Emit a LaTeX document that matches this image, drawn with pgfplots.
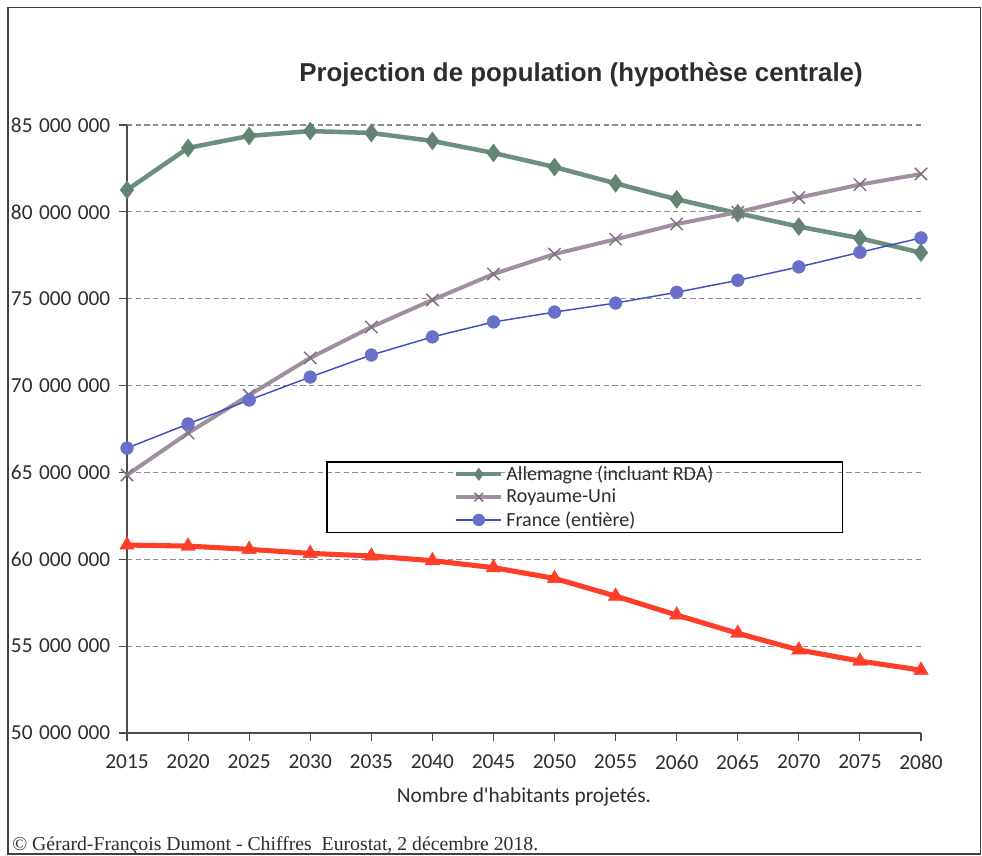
\documentclass[border=0pt]{standalone}
\usepackage{fontspec}
\setmainfont{Carlito}[Ligatures=TeXOff]
\newfontfamily\arialfont{Liberation Sans}
\newfontfamily\timesfont{Liberation Serif}
\usepackage{pgfplots}
\pgfplotsset{compat=1.18}

\definecolor{gerc}{RGB}{108,143,126}
\definecolor{germ}{RGB}{98,132,116}
\definecolor{ukc}{RGB}{160,143,160}
\definecolor{ukm}{RGB}{128,115,128}
\definecolor{frc}{RGB}{64,78,190}
\definecolor{frm}{RGB}{104,112,201}
\definecolor{itc}{RGB}{255,62,42}
\definecolor{gridc}{RGB}{140,140,140}
\definecolor{axc}{RGB}{77,77,77}
\definecolor{txt}{RGB}{45,45,45}

\newcommand{\sep}{\hspace{0.3em}}

\begin{document}
\begin{tikzpicture}
  % whole picture is 982 x 856 px, 1 px = 0.75 pt
  \path[use as bounding box] (0,0) rectangle (736.5pt,642pt);
  \draw[black!75, line width=0.8pt] (6pt,1.5pt) rectangle (735.5pt,636.5pt);

  \node[font=\arialfont\bfseries\fontsize{19.4}{22}\selectfont, text=txt]
    at (435.75pt,585.75pt) {Projection de population (hypothèse centrale)};

  \node[font=\timesfont\fontsize{14.8}{17}\selectfont, text=txt, anchor=west, inner sep=0pt]
    at (9pt,8pt) {© Gérard-François Dumont - Chiffres \ Eurostat, 2 décembre 2018.};

  \begin{axis}[
      at={(95.25pt,92.25pt)}, anchor=south west,
      scale only axis, width=595.5pt, height=456pt,
      xmin=2015, xmax=2080, ymin=50000000, ymax=85000000,
      scaled y ticks=false,
      axis x line=bottom, axis y line=left,
      axis line style={-, axc, line width=0.8pt},
      xtick={2015,2020,...,2080},
      xticklabels={2015,2020,2025,2030,2035,2040,2045,2050,2055,2060,2065,2070,2075,2080},
      ytick={50000000,55000000,60000000,65000000,70000000,75000000,80000000,85000000},
      yticklabels={50\sep000\sep000,55\sep000\sep000,60\sep000\sep000,65\sep000\sep000,70\sep000\sep000,75\sep000\sep000,80\sep000\sep000,85\sep000\sep000},
      tick align=outside, major tick length=6pt,
      tick style={axc, line width=0.8pt},
      tick label style={font=\fontsize{16}{18}\selectfont, text=txt},
      xticklabel style={yshift=-7pt},
      yticklabel style={xshift=-3pt},
      ymajorgrids,
      major grid style={gridc, line width=0.8pt, dash pattern=on 4pt off 2.5pt},
      xlabel={Nombre d'habitants projetés.},
      xlabel style={font=\fontsize{16}{18}\selectfont, text=txt, at={(axis description cs:0.5,-0.105)}, anchor=center},
      legend style={at={(0.5768,0.388)}, anchor=center, draw=black, line width=1.1pt,
        font=\fontsize{15}{17}\selectfont, text=txt, inner xsep=95pt, inner ysep=1pt,
        row sep=1pt, cells={anchor=west}, fill=none},
      legend cell align=left,
      legend image code/.code={
        \draw[mark repeat=2, mark phase=2, mark size=4.5pt] plot coordinates {(0pt,0pt) (17pt,0pt) (34pt,0pt)};
      },
    ]

    \addplot[gerc, line width=3.4pt, mark=diamond*, mark size=6.6pt,
      mark options={germ, fill=germ, line width=0.5pt}]
      coordinates {
        (2015,81260000) (2020,83680000) (2025,84370000) (2030,84650000)
        (2035,84540000) (2040,84080000) (2045,83390000) (2050,82580000)
        (2055,81640000) (2060,80720000) (2065,79920000) (2070,79150000)
        (2075,78480000) (2080,77650000)
      };
    \addlegendentry{Allemagne (incluant RDA)}

    \addplot[ukc, line width=3pt, mark=x, mark size=6.5pt,
      mark options={ukm, line width=1.1pt}]
      coordinates {
        (2015,64850000) (2020,67270000) (2025,69450000) (2030,71590000)
        (2035,73370000) (2040,74930000) (2045,76420000) (2050,77570000)
        (2055,78420000) (2060,79300000) (2065,79980000) (2070,80820000)
        (2075,81570000) (2080,82180000)
      };
    \addlegendentry{Royaume-Uni}

    \addplot[frc, line width=1.1pt, mark=*, mark size=4.8pt,
      mark options={frm, fill=frm, line width=0.3pt}]
      coordinates {
        (2015,66400000) (2020,67790000) (2025,69170000) (2030,70490000)
        (2035,71760000) (2040,72800000) (2045,73660000) (2050,74230000)
        (2055,74750000) (2060,75370000) (2065,76060000) (2070,76830000)
        (2075,77670000) (2080,78500000)
      };
    \addlegendentry{France (entière)}

    \addplot[itc, line width=3.8pt, mark=triangle*, mark size=6.3pt,
      mark options={itc, fill=itc, line width=0.3pt}, forget plot]
      coordinates {
        (2015,60820000) (2020,60760000) (2025,60570000) (2030,60340000)
        (2035,60190000) (2040,59920000) (2045,59520000) (2050,58900000)
        (2055,57880000) (2060,56790000) (2065,55740000) (2070,54780000)
        (2075,54140000) (2080,53620000)
      };
  \end{axis}
\end{tikzpicture}
\end{document}
